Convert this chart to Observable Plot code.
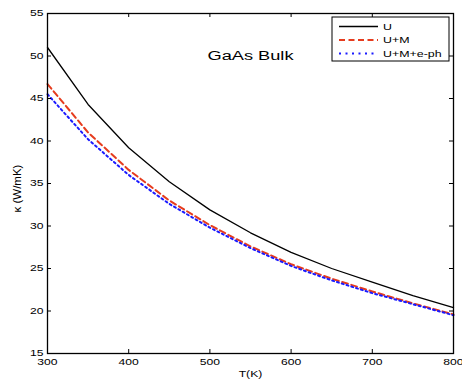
<!DOCTYPE html>
<html>
<head>
<meta charset="utf-8">
<script src="https://cdn.jsdelivr.net/npm/d3@7"></script>
<script src="https://cdn.jsdelivr.net/npm/@observablehq/plot@0.6"></script>
<style>
  html, body { margin: 0; padding: 0; background: #fff; }
  #chart { width: 462px; height: 382px; }
</style>
</head>
<body>
<div id="chart"></div>
<script>
// ---- data ----
const temps   = [300, 350, 400, 450, 500, 550, 600, 650, 700, 750, 800];
const kU      = [51.0, 44.3, 39.2, 35.2, 31.9, 29.2, 26.9, 25.0, 23.4, 21.8, 20.4];
const kUM     = [46.7, 41.0, 36.6, 33.0, 30.1, 27.6, 25.5, 23.8, 22.3, 20.9, 19.6];
const kUMeph  = [45.5, 40.2, 36.0, 32.6, 29.8, 27.4, 25.3, 23.6, 22.1, 20.8, 19.5];
const seriesNames  = ["U", "U+M", "U+M+e-ph"];
const seriesColors = ["#000000", "#e63c1e", "#1a1aff"];
const seriesDash   = [null, "6,3.5", "2,3"];
const seriesWidth  = [1.3, 2, 2];
const xTicks = [300, 400, 500, 600, 700, 800];
const yTicks = [15, 20, 25, 30, 35, 40, 45, 50, 55];
const xLabel = "T(K)";
const yLabel = "κ (W/mK)";
const annotation = "GaAs Bulk";

const seriesValues = [kU, kUM, kUMeph];
const rows = [];
seriesNames.forEach((name, i) => temps.forEach((t, j) => rows.push({series: name, T: t, k: seriesValues[i][j]})));

const font = "'Liberation Sans', Arial, sans-serif";
const W = 462, H = 382, mL = 47, mR = 9, mT = 13, mB = 29;
const innerW = W - mL - mR, innerH = H - mT - mB, TICK = 4;

const lineMarks = seriesNames.map((name, i) =>
  Plot.line(rows.filter(r => r.series === name), {
    x: "T", y: "k",
    stroke: seriesColors[i],
    strokeWidth: seriesWidth[i],
    strokeDasharray: seriesDash[i]
  })
);

const svg = Plot.plot({
  width: W,
  height: H,
  marginLeft: mL,
  marginRight: mR,
  marginTop: mT,
  marginBottom: mB,
  style: {fontFamily: font, fontSize: "9px", color: "#000", background: "#fff"},
  x: {domain: [300, 800]},
  y: {domain: [15, 55]},
  marks: [
    ...lineMarks,
    // inward ticks on all four sides
    Plot.tickX(xTicks, {x: d => d, insetTop: innerH - TICK, stroke: "#000"}),
    Plot.tickX(xTicks, {x: d => d, insetBottom: innerH - TICK, stroke: "#000"}),
    Plot.tickY(yTicks, {y: d => d, insetRight: innerW - TICK, stroke: "#000"}),
    Plot.tickY(yTicks, {y: d => d, insetLeft: innerW - TICK, stroke: "#000"}),
    Plot.axisX({anchor: "bottom", ticks: xTicks, tickSize: 0, tickPadding: 5, label: null, tickFormat: d => String(d)}),
    Plot.axisY({anchor: "left", ticks: yTicks, tickSize: 0, tickPadding: 4, label: null, tickFormat: d => String(d)}),
    Plot.frame({stroke: "#000", strokeWidth: 1.3}),
    Plot.text([annotation], {x: 550, y: 50, text: d => d, fontSize: 13.5, fill: "#000"}),
    Plot.text([xLabel], {frameAnchor: "bottom", textAnchor: "middle", lineAnchor: "middle", dy: 21, text: d => d, fontSize: 9, fill: "#000"}),
    Plot.text([yLabel], {frameAnchor: "left", textAnchor: "middle", lineAnchor: "middle", dx: -30, dy: 5, rotate: -90, text: d => d, fontSize: 11.5, fill: "#000"})
  ]
});

// ---- legend (drawn inside the plot area, top right) ----
const sel = d3.select(svg);
const lg = sel.append("g").attr("class", "legend");
const lx = 332, ly = 17, lw = 117, lh = 44;
lg.append("rect").attr("x", lx).attr("y", ly).attr("width", lw).attr("height", lh)
  .attr("fill", "#fff").attr("stroke", "#000").attr("stroke-width", 1);
seriesNames.forEach((name, i) => {
  const yy = ly + 9.5 + i * 13.5;
  lg.append("line").attr("x1", lx + 7).attr("x2", lx + 46).attr("y1", yy).attr("y2", yy)
    .attr("stroke", seriesColors[i]).attr("stroke-width", seriesWidth[i])
    .attr("stroke-dasharray", i === 2 ? "2,4.5" : seriesDash[i]);
  lg.append("text").attr("x", lx + 51).attr("y", yy).attr("dy", "0.35em")
    .attr("text-anchor", "start")
    .attr("font-size", 9.2).attr("font-family", font).attr("fill", "#000").text(name);
});

// ---- horizontal text stretch to match the reference's aspect ----
const S = 1.35;
svg.querySelectorAll("text").forEach(t => {
  const tr = t.getAttribute("transform") || "";
  if (/rotate\(/.test(tr)) return; // the rotated y label is left unstretched
  const x = parseFloat(t.getAttribute("x")) || 0;
  t.removeAttribute("x");
  t.setAttribute("transform", `${tr} translate(${x},0) scale(${S},1)`.trim());
});

document.getElementById("chart").appendChild(svg);
</script>
</body>
</html>
